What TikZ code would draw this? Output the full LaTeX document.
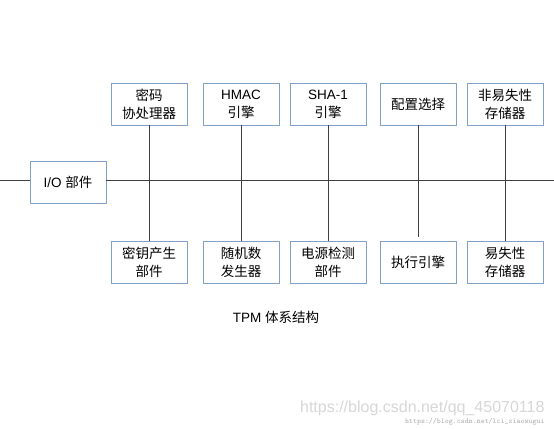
\documentclass[tikz,border=0pt]{standalone}
\usepackage{fontspec}
\setmainfont{Liberation Sans}
\newfontfamily\cjk{Noto Sans CJK SC}
\usetikzlibrary{positioning}
\definecolor{boxblue}{RGB}{128,160,200}
\definecolor{wmgray}{RGB}{215,215,215}
\tikzset{
  part/.style={draw=boxblue,line width=0.9bp,minimum width=76bp,minimum height=42bp,
    inner sep=1bp,align=center,font=\fontsize{13.5bp}{18bp}\selectfont},
  bus/.style={draw=black!75,line width=0.8bp}
}
\begin{document}
\begin{tikzpicture}[x=1bp,y=-1bp,line join=round]
  \useasboundingbox[fill=white] (0,0) rectangle (554,428);
  % top row
  \node[part] (crypto) at (149,104){{\cjk 密码}\\{\cjk 协处理器}};
  \node[part] (hmac)   at (241,104){HMAC\\{\cjk 引擎}};
  \node[part] (sha)    at (328,104){SHA-1\\{\cjk 引擎}};
  \node[part] (opt)    at (418,104){{\cjk 配置选择}};
  \node[part] (nvm)    at (505,104){{\cjk 非易失性}\\{\cjk 存储器}};
  % bottom row
  \node[part] (keygen) at (149,262){{\cjk 密钥产生}\\{\cjk 部件}};
  \node[part] (rng)    at (241,262){{\cjk 随机数}\\{\cjk 发生器}};
  \node[part] (power)  at (328,262){{\cjk 电源检测}\\{\cjk 部件}};
  \node[part] (exec)   at (418,262){{\cjk 执行引擎}};
  \node[part] (vm)     at (505,262){{\cjk 易失性}\\{\cjk 存储器}};
  % io and bus
  \node[part] (io) at (68,182){I/O {\cjk 部件}};
  \coordinate (busL) at (0,180);
  \coordinate (busR) at (554,180);
  \draw[bus] (busL)--(busL-|io.west);
  \draw[bus] (busR-|io.east)--(busR);
  \draw[bus] (crypto.south)--(keygen.north);
  \draw[bus] (hmac.south)--(rng.north);
  \draw[bus] (sha.south)--(power.north);
  \draw[bus,shorten >=4bp] (opt.south)--(exec.north);
  \draw[bus] (nvm.south)--(vm.north);
  % caption
  \node[font=\fontsize{13.5bp}{16bp}\selectfont] (title) at (276,317){TPM {\cjk 体系结构}};
  % watermark
  \node[text=wmgray,font=\fontsize{16bp}{19bp}\selectfont,anchor=east] (wm) at (548,408){https://blog.csdn.net/qq\_45070118};
  \node[text=wmgray!80!black,font=\ttfamily\fontsize{7.5bp}{9bp}\selectfont,anchor=east] (wm2) at (548,422){https://blog.csdn.net/lci\_xiaowugui};
\end{tikzpicture}
\end{document}
